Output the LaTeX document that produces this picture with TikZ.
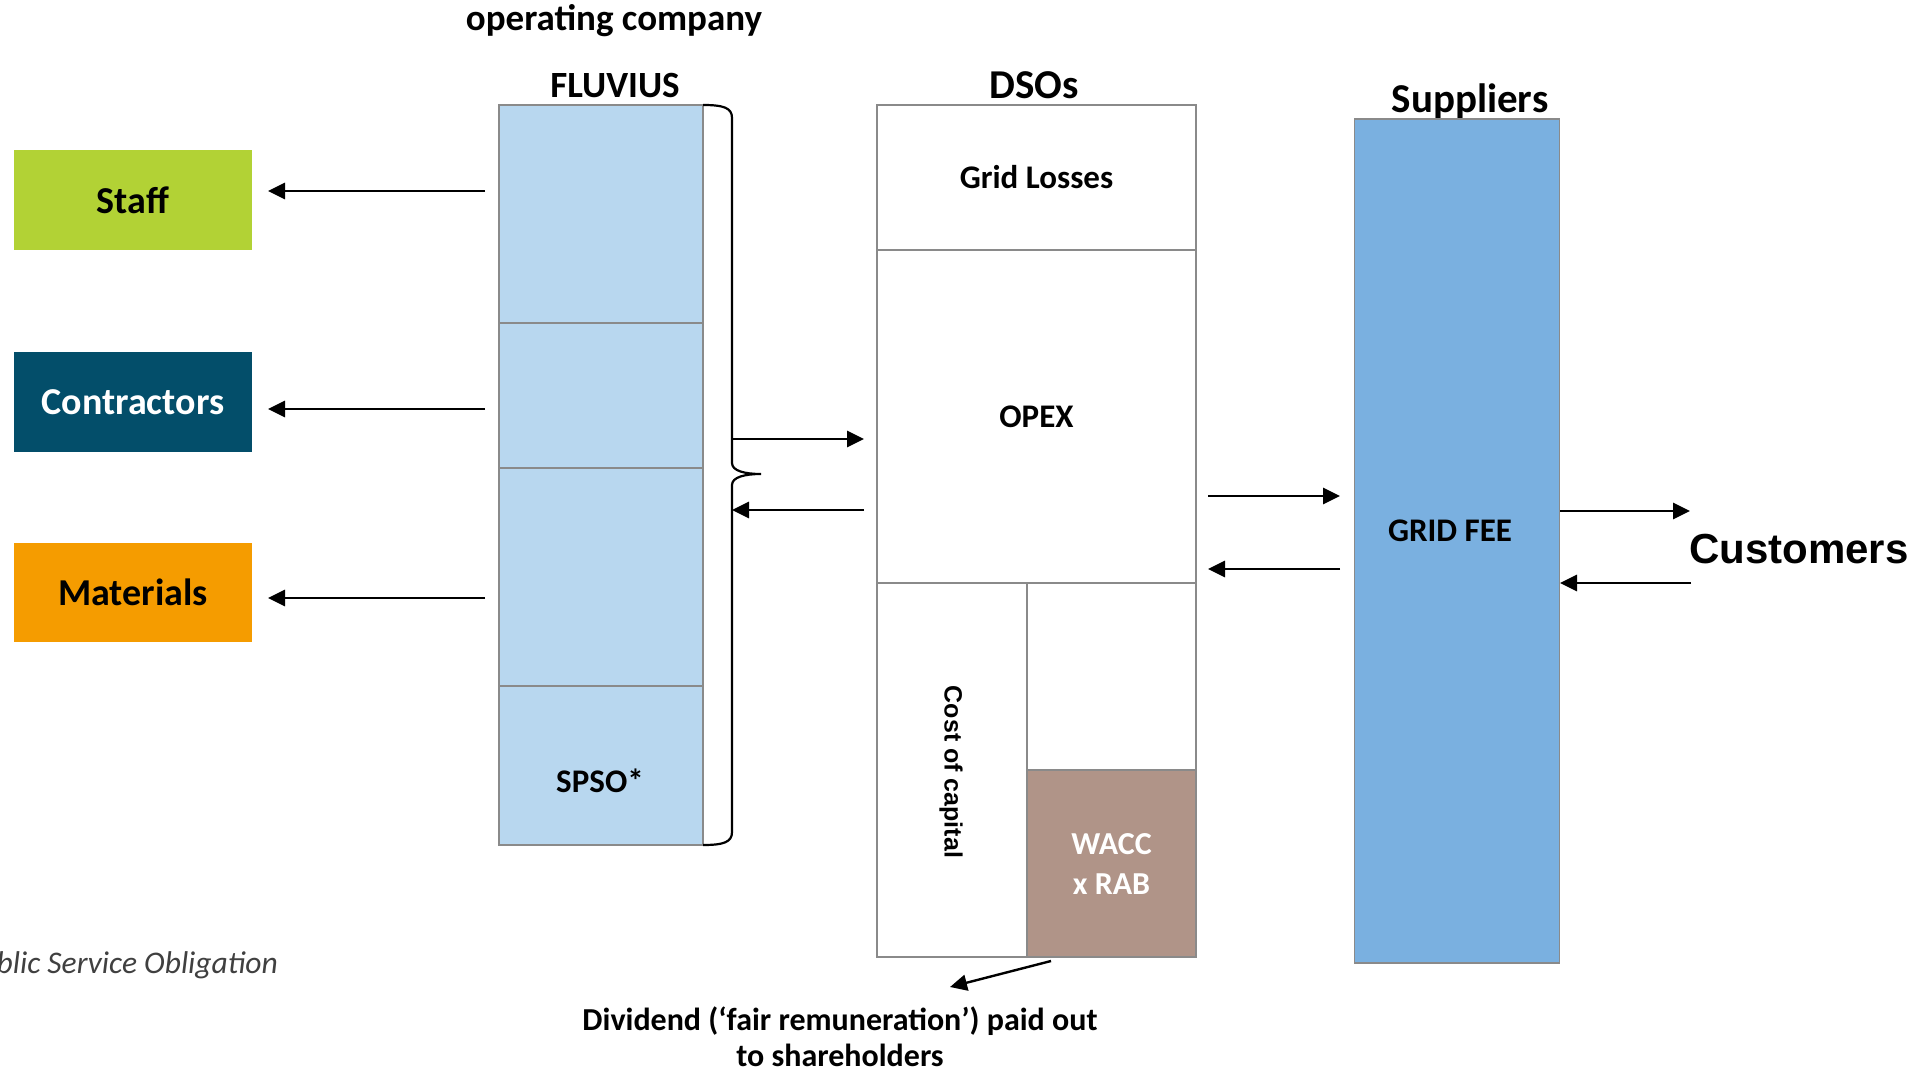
\documentclass[tikz,border=0pt]{standalone}
\usepackage{fontspec}
\setmainfont{Carlito}
\newfontfamily\arialfont{Liberation Sans}
\usetikzlibrary{arrows.meta}
\definecolor{staffc}{HTML}{B2D235}
\definecolor{contrc}{HTML}{034E6A}
\definecolor{matc}{HTML}{F59C00}
\definecolor{fluc}{HTML}{B8D7EF}
\definecolor{supc}{HTML}{7AB0E0}
\definecolor{waccc}{HTML}{B09488}
\definecolor{bordc}{HTML}{8A8A8A}
\definecolor{notec}{HTML}{404040}
\begin{document}
\begin{tikzpicture}[x=1pt,y=-1pt,
  cell/.style={draw=bordc, line width=1.6pt, inner sep=0pt, font=\bfseries\fontsize{33}{40}\selectfont},
  sidebox/.style={inner sep=0pt, minimum width=238pt, minimum height=100pt, font=\bfseries\fontsize{38}{44}\selectfont},
  arr/.style={line width=2.8pt, -{Triangle[length=17pt,width=16pt]}},
  lbl/.style={inner sep=0pt, anchor=base, font=\bfseries\fontsize{37}{44}\selectfont},
  biglbl/.style={inner sep=0pt, anchor=base, font=\bfseries\fontsize{41}{48}\selectfont},
  txt/.style={inner sep=0pt, anchor=base, font=\bfseries\fontsize{32}{38}\selectfont}]
\useasboundingbox[fill=white] (0,0) rectangle (1931,1073);

% side boxes
\node[sidebox, fill=staffc] (staff) at (133,200) {Staff};
\node[sidebox, fill=contrc, text=white] (contr) at (133,402) {Contractors};
\node[sidebox, fill=matc, minimum height=99pt] (mat) at (133,592.5) {Materials};

% FLUVIUS column
\node[lbl] (opco) at (614,31) {operating company};
\node[lbl] (fluv) at (615,98) {FLUVIUS};
\node[cell, fill=fluc, minimum width=204pt, minimum height=218pt] (fl1) at (601,214) {};
\node[cell, fill=fluc, minimum width=204pt, minimum height=145pt] (fl2) at (601,395.5) {};
\node[cell, fill=fluc, minimum width=204pt, minimum height=218pt] (fl3) at (601,577) {};
\node[cell, fill=fluc, minimum width=204pt, minimum height=159pt] (fl4) at (601,765.5) {};
\node[inner sep=0pt, font=\bfseries\fontsize{33}{40}\selectfont] (spso) at (600,781) {SPSO*};

% brace
\draw[line width=2.2pt] (703,105) .. controls (724,105) and (732,108) .. (732,118)
  -- (732,463) .. controls (732,471) and (745,474) .. (761,474)
  .. controls (745,474) and (732,477) .. (732,485)
  -- (732,832) .. controls (732,842) and (724,845) .. (703,845);
\coordinate (brR) at (732,439);
\coordinate (brL) at (732,510);

% DSO column
\node[biglbl] (dsos) at (1034,99) {DSOs};
\node[cell, fill=white, minimum width=319pt, minimum height=145pt] (gl) at (1036.5,177.5) {Grid Losses};
\node[cell, fill=white, minimum width=319pt, minimum height=333pt] (opex) at (1036.5,416.5) {OPEX};
\node[cell, fill=white, minimum width=150pt, minimum height=374pt] (coc) at (952,770) {};
\node[inner sep=0pt, rotate=-90, font=\arialfont\bfseries\fontsize{25}{30}\selectfont] (coct) at (951,772) {Cost of capital};
\node[cell, fill=white, minimum width=169pt, minimum height=187pt] (blank) at (1111.5,676.5) {};
\node[cell, fill=waccc, text=white, align=center, minimum width=169pt, minimum height=187pt,
      font=\bfseries\fontsize{32}{40}\selectfont] (wacc) at (1111.5,863.5) {WACC\\x RAB};

% Suppliers column
\node[biglbl] (supl) at (1470,112) {Suppliers};
\node[cell, fill=supc, minimum width=205pt, minimum height=844pt] (sup) at (1457,541) {};
\node[inner sep=0pt, font=\bfseries\fontsize{33}{40}\selectfont] (gf) at (1450,531) {GRID FEE};

% Customers
\node[inner sep=0pt, anchor=base west, font=\arialfont\bfseries\fontsize{42}{50}\selectfont] (cust) at (1689,563) {Customers};

% arrows to the left boxes
\coordinate (a1s) at (485,191); \coordinate (a1e) at (268,191);
\coordinate (a2s) at (485,409); \coordinate (a2e) at (268,409);
\coordinate (a3s) at (485,598); \coordinate (a3e) at (268,598);
\draw[arr] (a1s) -- (a1e);
\draw[arr] (a2s) -- (a2e);
\draw[arr] (a3s) -- (a3e);

% Fluvius <-> DSO
\coordinate (d1) at (864,439); \coordinate (d2) at (864,510);
\draw[arr] (brR) -- (d1);
\draw[arr] (d2) -- (brL);

% DSO <-> Suppliers
\coordinate (s1a) at (1208,496); \coordinate (s1b) at (1340,496);
\coordinate (s2a) at (1340,569); \coordinate (s2b) at (1208,569);
\draw[arr] (s1a) -- (s1b);
\draw[arr] (s2a) -- (s2b);

% Suppliers <-> Customers
\coordinate (c1a) at (1560,511); \coordinate (c1b) at (1690,511);
\coordinate (c2a) at (1691,583); \coordinate (c2b) at (1560,583);
\draw[arr] (c1a) -- (c1b);
\draw[arr] (c2a) -- (c2b);

% dividend
\coordinate (dv1) at (1051,961); \coordinate (dv2) at (950,987);
\draw[arr, line width=2.4pt] (dv1) -- (dv2);
\node[txt] (div1) at (840,1030) {Dividend (‘fair remuneration’) paid out};
\node[txt] (div2) at (840,1066) {to shareholders};

% footnote
\node[inner sep=0pt, anchor=base east, text=notec, font=\itshape\fontsize{31.5}{38}\selectfont] (note) at (278,973) {blic Service Obligation};
\end{tikzpicture}
\end{document}
